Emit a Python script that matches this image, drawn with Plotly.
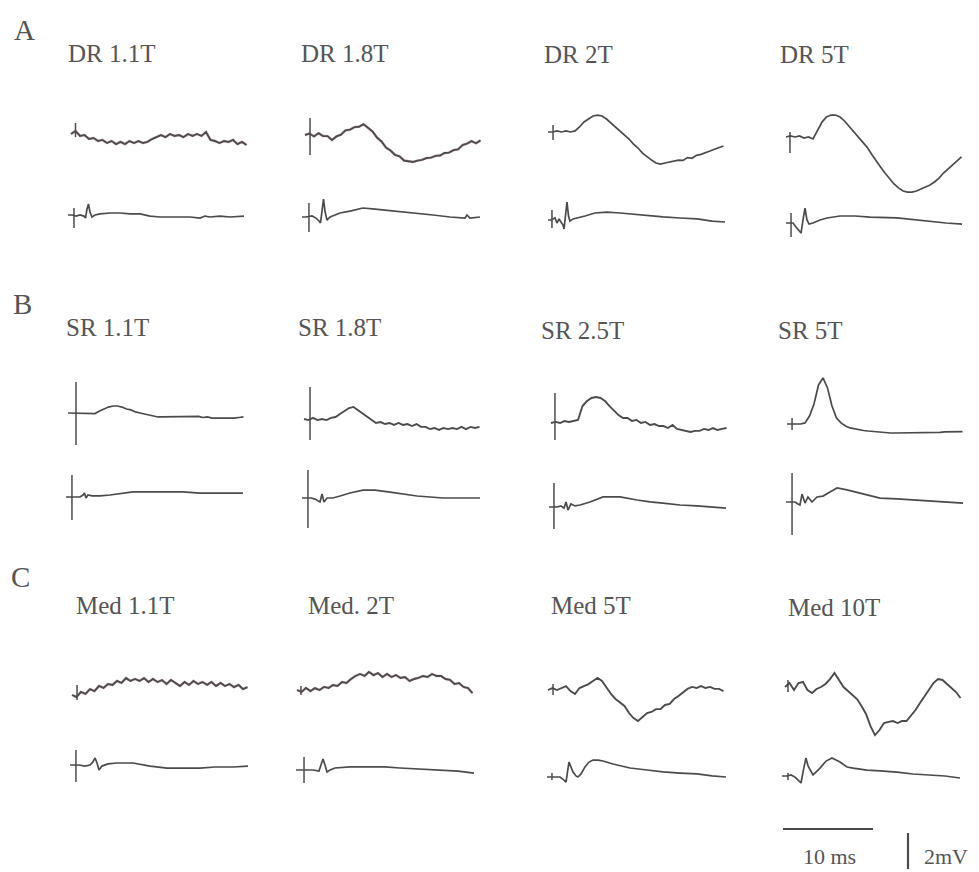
import plotly.graph_objects as go

# ---------------- data (ms / mV) ----------------
T_UP = [0.0, 0.5, 1.0, 1.5, 2.0, 2.5, 3.0, 3.5, 4.0, 4.5, 5.0, 5.5, 6.0, 6.5, 7.0, 7.5,
        8.0, 8.5, 9.0, 9.5, 10.0, 10.5, 11.0, 11.5, 12.0, 12.5, 13.0, 13.5, 14.0, 14.5,
        15.0, 15.5, 16.0, 16.5, 17.0, 17.5, 18.0, 18.5, 19.0, 19.5]

TITLES = ["DR 1.1T", "DR 1.8T", "DR 2T", "DR 5T",
          "SR 1.1T", "SR 1.8T", "SR 2.5T", "SR 5T",
          "Med 1.1T", "Med. 2T", "Med 5T", "Med 10T"]
ROW_LABELS = ["A", "B", "C"]

A1_UP = [0, 0.17, -0.11, -0.06, -0.28, -0.22, -0.39, -0.33, -0.5, -0.39, -0.56, -0.44, -0.56, -0.39,
         -0.5, -0.39, -0.5, -0.44, -0.28, -0.17, -0.06, -0.17, 0, -0.11, -0.06, -0.17, 0, -0.11, 0,
         -0.11, 0.11, -0.33, -0.39, -0.5, -0.39, -0.44, -0.33, -0.56, -0.44, -0.61]
A2_UP = [0, 0.08, -0.08, 0.1, -0.06, -0.06, -0.28, -0.08, 0.02, 0.26, 0.3, 0.44, 0.46, 0.6, 0.4, 0.2,
         -0.14, -0.36, -0.7, -0.86, -1.1, -1.18, -1.42, -1.46, -1.5, -1.42, -1.38, -1.28, -1.26, -1.16,
         -1.14, -1.0, -0.98, -0.84, -0.8, -0.56, -0.48, -0.34, -0.46, -0.3]
A3_UP = [0, 0, 0.06, 0, 0.06, 0, 0.06, 0.28, 0.56, 0.72, 0.89, 0.94, 0.89, 0.72, 0.5, 0.28, 0.06,
         -0.17, -0.39, -0.67, -0.89, -1.17, -1.39, -1.56, -1.72, -1.78, -1.72, -1.67, -1.61, -1.56,
         -1.58, -1.42, -1.46, -1.3, -1.24, -1.17, -1.06, -0.96, -0.89, -0.78]
A4_UP = [0, 0.06, 0, 0.06, -0.06, 0, -0.11, 0.39, 0.83, 1.11, 1.22, 1.22, 1.11, 0.89, 0.61, 0.33,
         0.06, -0.28, -0.56, -0.94, -1.33, -1.67, -2.0, -2.33, -2.61, -2.83, -3.0, -3.06, -3.06, -3.0,
         -2.89, -2.78, -2.67, -2.5, -2.28, -2.0, -1.78, -1.56, -1.33, -1.11]
B1_UP = [0, 0, 0, 0, 0, 0, -0.03, 0.11, 0.22, 0.33, 0.39, 0.39, 0.33, 0.22, 0.17, 0.06, 0, -0.06,
         -0.11, -0.17, -0.22, -0.22, -0.22, -0.22, -0.22, -0.19, -0.22, -0.19, -0.22, -0.19, -0.25,
         -0.22, -0.28, -0.28, -0.31, -0.28, -0.31, -0.28, -0.25, -0.22]
B2_UP = [0, -0.06, 0.06, -0.06, 0, -0.06, 0.06, 0.11, 0.28, 0.44, 0.61, 0.67, 0.5, 0.33, 0.11, -0.06,
         -0.22, -0.17, -0.28, -0.22, -0.33, -0.22, -0.33, -0.28, -0.39, -0.28, -0.44, -0.44, -0.56,
         -0.5, -0.61, -0.5, -0.56, -0.5, -0.56, -0.44, -0.56, -0.44, -0.5, -0.44]
B3_UP = [0, 0.06, 0, 0.11, 0.06, 0.11, 0.17, 0.94, 1.22, 1.39, 1.44, 1.39, 1.22, 0.94, 0.67, 0.44,
         0.28, 0.28, 0.11, 0.17, 0, 0.06, -0.11, -0.06, -0.17, -0.17, -0.28, -0.11, -0.33, -0.39,
         -0.44, -0.5, -0.44, -0.44, -0.33, -0.39, -0.28, -0.39, -0.33, -0.28]
B4_UP = [0, 0, 0, 0, 0.06, 0.44, 1.11, 2.17, 2.56, 2.0, 1.0, 0.33, 0.06, -0.11, -0.22, -0.28, -0.33,
         -0.36, -0.39, -0.42, -0.44, -0.44, -0.47, -0.5, -0.5, -0.5, -0.5, -0.5, -0.5, -0.5, -0.5,
         -0.5, -0.5, -0.47, -0.47, -0.44, -0.44, -0.44, -0.42, -0.42]
C1_UP = [0, -0.11, 0.17, 0.06, 0.33, 0.22, 0.5, 0.39, 0.61, 0.56, 0.78, 0.67, 0.94, 0.78, 0.89, 0.78,
         0.94, 0.72, 0.89, 0.72, 0.83, 0.61, 0.83, 0.67, 0.5, 0.72, 0.56, 0.78, 0.61, 0.72, 0.56,
         0.72, 0.5, 0.67, 0.5, 0.61, 0.44, 0.56, 0.33, 0.44]
C2_UP = [0, -0.11, 0.11, -0.06, 0.11, 0, 0.17, 0.11, 0.28, 0.22, 0.44, 0.39, 0.61, 0.78, 0.89, 0.78,
         1.0, 0.83, 0.94, 0.72, 0.89, 0.72, 0.83, 0.67, 0.72, 0.5, 0.61, 0.67, 0.78, 0.72, 0.89,
         0.78, 0.78, 0.61, 0.56, 0.33, 0.39, 0.17, 0.11, -0.17]
C3_UP = [0, 0.11, 0, 0.11, 0.22, -0.06, -0.22, 0.11, 0.22, 0.33, 0.5, 0.67, 0.5, 0.11, -0.22, -0.5,
         -0.67, -0.89, -1.28, -1.56, -1.72, -1.5, -1.28, -1.22, -1.06, -1.06, -0.83, -0.78, -0.5,
         -0.33, -0.11, 0.06, 0.17, 0.11, 0.22, 0.11, 0.17, 0.06, 0.06, -0.06]
C4_UP = [0, 0.22, -0.17, 0.22, 0.28, -0.17, -0.33, -0.11, 0, 0.17, 0.44, 0.78, 0.39, 0, -0.22, -0.44,
         -0.67, -1.06, -1.5, -2.17, -2.67, -2.39, -2.0, -1.94, -1.89, -2.0, -1.89, -1.89, -1.61,
         -1.28, -0.89, -0.5, -0.11, 0.22, 0.44, 0.39, 0.17, -0.06, -0.28, -0.61]

A1_LO_T = [-0.33, 0.11, 0.56, 1.0, 1.44, 1.61, 1.78, 1.94, 2.11, 2.33, 2.67, 3.22, 4.33, 5.44, 6.56,
           7.67, 8.78, 9.89, 11.0, 12.11, 13.22, 14.33, 14.89, 15.44, 16.56, 17.67, 18.78, 19.22]
A1_LO_V = [0, 0, -0.06, 0, -0.06, -0.17, 0.33, 0.61, 0.17, -0.11, 0, 0.06, 0.11, 0.11, 0.06, 0.06,
           -0.06, -0.11, -0.11, -0.11, -0.11, -0.17, -0.06, -0.11, -0.06, -0.11, -0.06, -0.06]
A2_LO_T = [-0.33, 0.11, 0.78, 1.22, 1.56, 1.72, 1.89, 2.06, 2.22, 2.44, 2.78, 3.11, 3.89, 5.0, 6.44,
           7.78, 8.89, 10.56, 12.44, 14.22, 16.11, 17.78, 18.0, 18.33, 19.44]
A2_LO_V = [0, 0, 0.06, -0.06, -0.22, -0.33, 0.33, 1.0, 0.33, -0.17, 0, 0.06, 0.22, 0.33, 0.5, 0.44,
           0.39, 0.28, 0.22, 0.11, 0, -0.06, 0.11, -0.06, 0]
A3_LO_T = [0, 0.33, 0.78, 1.0, 1.22, 1.44, 1.67, 1.78, 1.94, 2.11, 2.28, 2.44, 2.78, 3.22, 4.11, 5.22,
           6.56, 8.0, 10.22, 12.78, 14.67, 16.56, 18.22, 19.67]
A3_LO_V = [0, 0, 0.11, -0.17, 0.06, -0.11, -0.28, -0.5, 0.28, 1.0, 0.22, -0.06, 0.06, 0.11, 0.22,
           0.39, 0.44, 0.39, 0.28, 0.17, 0.11, 0.06, -0.06, -0.11]
A4_LO_T = [0, 0.33, 0.78, 1.11, 1.44, 1.67, 1.89, 2.11, 2.33, 2.56, 3.0, 3.78, 4.56, 6.0, 7.67, 9.33,
           12.33, 14.33, 16.0, 17.78, 19.56]
A4_LO_V = [0, 0, 0, -0.22, -0.39, -0.56, 0.17, 0.83, 0.17, -0.06, 0, 0.17, 0.28, 0.39, 0.39, 0.33,
           0.28, 0.17, 0.11, 0, -0.06]
B1_LO_T = [-0.22, 0.22, 0.78, 1.33, 1.67, 1.83, 2.0, 2.22, 2.67, 3.56, 4.67, 5.78, 7.22, 9.44, 11.33,
           12.78, 14.67, 16.56, 18.0, 19.44]
B1_LO_V = [0, 0, 0, 0, 0.11, 0.22, -0.06, 0.11, 0.06, 0.06, 0.11, 0.17, 0.28, 0.28, 0.28, 0.28,
           0.22, 0.22, 0.22, 0.22]
B2_LO_T = [-0.22, 0.22, 0.78, 1.22, 1.56, 1.78, 2.0, 2.22, 2.56, 3.22, 4.0, 5.11, 6.56, 7.89, 9.56,
           12.56, 15.44, 17.33, 19.56]
B2_LO_V = [0, 0, 0, -0.06, -0.17, -0.22, 0.22, -0.22, 0, 0, 0.11, 0.28, 0.44, 0.44, 0.33, 0.11, 0,
           0, 0]
B3_LO_T = [-0.22, 0.11, 0.67, 1.11, 1.44, 1.67, 1.89, 2.22, 2.67, 3.22, 4.33, 5.78, 7.67, 9.56, 11.0,
           12.44, 14.33, 16.22, 17.89, 19.44]
B3_LO_V = [0, 0, 0, 0.06, -0.06, 0.28, -0.17, 0.17, 0.06, 0.11, 0.28, 0.56, 0.56, 0.39, 0.28, 0.22,
           0.11, 0.06, 0, -0.06]
B4_LO_T = [-0.11, 0.33, 0.89, 1.22, 1.44, 1.67, 2.0, 2.33, 2.78, 3.33, 4.0, 4.78, 5.56, 6.67, 8.44,
           10.33, 12.22, 14.0, 15.89, 17.78, 19.56]
B4_LO_V = [0, 0, 0, -0.11, -0.17, 0.44, -0.06, 0.28, 0, 0.28, 0.33, 0.56, 0.78, 0.67, 0.44, 0.22,
           0.17, 0.11, 0.06, 0, -0.06]
C1_LO_T = [-0.22, 0.22, 0.78, 1.44, 2.0, 2.33, 2.56, 2.78, 3.0, 3.33, 4.0, 5.0, 6.78, 8.67, 10.56,
           12.56, 14.22, 15.89, 17.89, 19.56]
C1_LO_V = [0, 0, 0, -0.06, 0, 0.17, 0.39, 0.11, -0.28, -0.06, 0.06, 0.11, 0.11, -0.06, -0.17,
           -0.17, -0.17, -0.11, -0.11, -0.06]
C2_LO_T = [-0.11, 0.44, 1.11, 1.78, 2.44, 2.67, 2.89, 3.11, 3.33, 3.67, 4.22, 5.89, 7.78, 9.78, 11.44,
           13.67, 15.89, 17.89, 19.67]
C2_LO_V = [0, 0, 0, 0, -0.06, 0.28, 0.61, 0.28, -0.11, 0, 0.11, 0.17, 0.17, 0.17, 0.11, 0.06, 0,
           -0.06, -0.17]
C3_LO_T = [-0.11, 0.22, 0.78, 1.33, 1.78, 2.0, 2.33, 2.56, 2.78, 3.11, 3.33, 3.67, 4.11, 4.56, 5.0,
           5.56, 6.11, 7.22, 9.11, 11.0, 12.78, 14.67, 16.56, 18.22, 19.78]
C3_LO_V = [0, 0, 0, 0, -0.17, -0.28, 0.83, 0.5, 0.28, 0.06, 0, 0.17, 0.56, 0.83, 0.94, 0.94, 0.89,
           0.72, 0.5, 0.39, 0.28, 0.22, 0.17, 0.06, 0]
C4_LO_T = [-0.33, 0.22, 0.67, 1.11, 1.44, 1.78, 2.0, 2.33, 2.56, 2.78, 3.11, 3.44, 3.89, 4.56, 5.22,
           6.11, 6.89, 7.56, 9.11, 10.56, 12.44, 14.22, 16.11, 17.78, 19.44]
C4_LO_V = [0, 0, 0.06, -0.06, -0.22, -0.39, 0.22, 1.0, 0.56, 0.33, 0.06, 0.22, 0.44, 0.83, 1.0, 0.78,
           0.5, 0.44, 0.33, 0.28, 0.22, 0.11, 0.06, 0, -0.11]

# stimulus artifacts: time (ms), top (mV), bottom (mV)
ART_UP_T = [0.5, 0.56, 0.56, 0.44, 0.89, 0.67, 0.44, 0.56, 0.56, 0.44, 0.56, 0.33]
ART_UP_HI = [0.61, 0.94, 0.39, 0.28, 1.72, 1.78, 1.67, 0.33, 0.56, 0.22, 0.33, 0.39]
ART_UP_LO = [-0.17, -1.11, -0.44, -0.89, -1.78, -1.17, -0.94, -0.33, -0.28, -0.28, -0.28, -0.28]
ART_LO_T = [0.33, 0.44, 0.44, 0.56, 0.44, 0.44, 0.33, 0.56, 0.44, 0.78, 0.44, 0.33]
ART_LO_HI = [0.39, 0.78, 0.56, 0.56, 1.22, 1.56, 1.33, 1.61, 0.83, 0.72, 0.22, 0.17]
ART_LO_LO = [-0.72, -0.83, -0.44, -0.78, -1.28, -1.67, -1.22, -1.83, -0.94, -0.72, -0.17, -0.22]

SCALE_MS = 10
SCALE_MV = 2

UPPER = [A1_UP, A2_UP, A3_UP, A4_UP, B1_UP, B2_UP, B3_UP, B4_UP, C1_UP, C2_UP, C3_UP, C4_UP]
LOWER = [(A1_LO_T, A1_LO_V), (A2_LO_T, A2_LO_V), (A3_LO_T, A3_LO_V), (A4_LO_T, A4_LO_V),
         (B1_LO_T, B1_LO_V), (B2_LO_T, B2_LO_V), (B3_LO_T, B3_LO_V), (B4_LO_T, B4_LO_V),
         (C1_LO_T, C1_LO_V), (C2_LO_T, C2_LO_V), (C3_LO_T, C3_LO_V), (C4_LO_T, C4_LO_V)]
NOISY = [True, True, False, False, False, True, True, False, True, True, True, True]
RED_TINT = [True, True, False, False, False, False, False, False, True, True, False, False]

# ---------------- layout (pixels of the 979x872 page) ----------------
W, H = 979, 872
PX_MS = 9.0
PX_MV = 18.0
PANEL_X = [71, 305, 548, 786, 68, 304, 551, 787, 72, 297, 548, 785]
PANEL_YU = [134, 135, 132, 137, 413, 419, 423, 424, 695, 690, 690, 687]
PANEL_YL = [215, 217, 220, 223, 497, 498, 507, 502, 765, 770, 777, 776]
TITLE_POS = [(66, 53), (299, 53), (542, 55), (778, 55),
             (64, 327), (296, 328), (539, 330), (776, 330),
             (74, 605), (306, 605), (549, 605), (786, 607)]
ROW_POS = [(24, 30), (22, 304), (20, 577)]

TRACE_COLOR = "#4b4b4b"
TEXT_COLOR = "#555555"
SERIF = "Liberation Serif, Times New Roman, serif"

fig = go.Figure()
layout_axes = {}
axis_count = [0]


def new_axes(x_left, x_right, x_zero, y_top, y_bot, y_zero):
    axis_count[0] += 1
    i = axis_count[0]
    xn = "xaxis" if i == 1 else f"xaxis{i}"
    yn = "yaxis" if i == 1 else f"yaxis{i}"
    xr = "x" if i == 1 else f"x{i}"
    yr = "y" if i == 1 else f"y{i}"
    common = dict(visible=False, showgrid=False, zeroline=False, fixedrange=True)
    layout_axes[xn] = dict(domain=[x_left / W, x_right / W],
                           range=[(x_left - x_zero) / PX_MS, (x_right - x_zero) / PX_MS],
                           anchor=yr, **common)
    layout_axes[yn] = dict(domain=[1 - y_bot / H, 1 - y_top / H],
                           range=[(y_zero - y_bot) / PX_MV, (y_zero - y_top) / PX_MV],
                           anchor=xr, **common)
    return xr, yr


def line(xa, ya, x, y, width, color=TRACE_COLOR):
    fig.add_trace(go.Scatter(x=x, y=y, mode="lines", xaxis=xa, yaxis=ya,
                             line=dict(color=color, width=width, shape="linear"),
                             hoverinfo="skip", showlegend=False))


for p in range(12):
    x0, yu, yl = PANEL_X[p], PANEL_YU[p], PANEL_YL[p]
    xa, ya = new_axes(x0 - 20, x0 + 190, x0, yu - 65, yu + 65, yu)
    if RED_TINT[p]:
        line(xa, ya, T_UP, UPPER[p], 2.8, "rgba(170,80,105,0.3)")
    line(xa, ya, T_UP, UPPER[p], 1.9 if NOISY[p] else 1.7)
    line(xa, ya, [ART_UP_T[p], ART_UP_T[p]], [ART_UP_HI[p], ART_UP_LO[p]], 1.5)
    xa, ya = new_axes(x0 - 20, x0 + 190, x0, yl - 40, yl + 40, yl)
    lt, lv = LOWER[p]
    line(xa, ya, lt, lv, 1.7)
    line(xa, ya, [ART_LO_T[p], ART_LO_T[p]], [ART_LO_HI[p], ART_LO_LO[p]], 1.5)

# scale bars
xa, ya = new_axes(775, 880, 783, 820, 840, 829)
line(xa, ya, [0, SCALE_MS], [0, 0], 2.2)
xa, ya = new_axes(900, 916, 908, 828, 872, 833)
line(xa, ya, [0, 0], [0, -SCALE_MV], 2.2)

annotations = []
for p in range(12):
    tx, ty = TITLE_POS[p]
    annotations.append(dict(text=TITLES[p], x=tx / W, y=1 - ty / H, xref="paper", yref="paper",
                            xanchor="left", yanchor="middle", showarrow=False,
                            font=dict(family=SERIF, size=25, color=TEXT_COLOR)))
for r in range(3):
    tx, ty = ROW_POS[r]
    annotations.append(dict(text=ROW_LABELS[r], x=tx / W, y=1 - ty / H, xref="paper", yref="paper",
                            xanchor="center", yanchor="middle", showarrow=False,
                            font=dict(family=SERIF, size=29, color=TEXT_COLOR)))
annotations.append(dict(text=f"{SCALE_MS} ms", x=829 / W, y=1 - 856 / H, xref="paper", yref="paper",
                        xanchor="center", yanchor="middle", showarrow=False,
                        font=dict(family=SERIF, size=22, color=TEXT_COLOR)))
annotations.append(dict(text=f"{SCALE_MV}mV", x=922 / W, y=1 - 856 / H, xref="paper", yref="paper",
                        xanchor="left", yanchor="middle", showarrow=False,
                        font=dict(family=SERIF, size=22, color=TEXT_COLOR)))

fig.update_layout(width=W, height=H, margin=dict(l=0, r=0, t=0, b=0),
                  paper_bgcolor="white", plot_bgcolor="rgba(0,0,0,0)",
                  showlegend=False, annotations=annotations, **layout_axes)

fig.write_html("out.html", config={"displayModeBar": False},
               post_script="document.body.style.margin='0';document.body.style.overflow='hidden';")
